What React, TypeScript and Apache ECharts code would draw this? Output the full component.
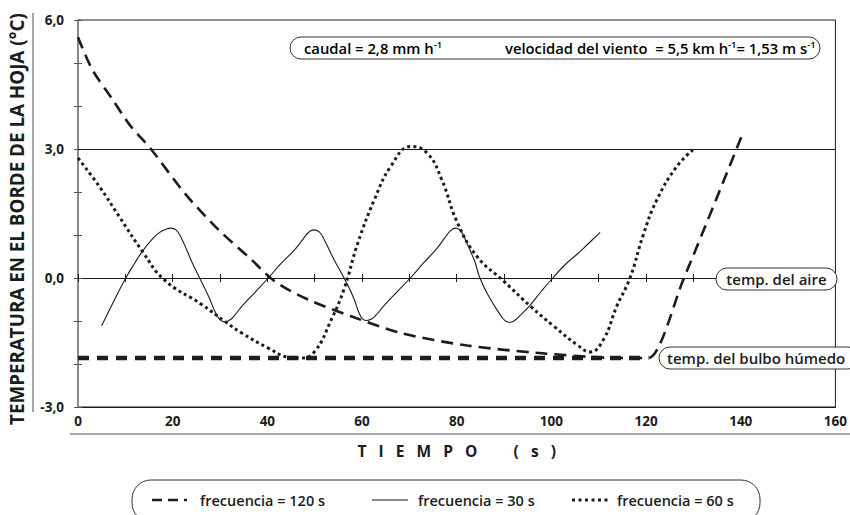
import React, { useEffect, useRef } from 'react';
import * as echarts from 'echarts';

// ---- data (time in s, leaf-edge temperature in °C) ----
const freq120: number[][] = [
  [0, 5.6], [3, 4.85], [7.3, 4.15], [11, 3.55], [15.4, 3.0], [22.7, 1.95], [29.7, 1.12],
  [36.7, 0.42], [41.6, -0.08], [48.6, -0.5], [57.7, -0.89], [68.2, -1.28], [82.2, -1.57],
  [96.9, -1.74], [108.9, -1.84], [114, -1.86], [119, -1.86], [120.5, -1.86], [128, 0], [140.2, 3.3],
];
const freq30: number[][] = [
  [5, -1.11], [7.5, -0.55], [10.1, 0], [12, 0.35], [13.6, 0.62], [15.5, 0.88], [17.1, 1.05],
  [18.5, 1.13], [19.6, 1.16], [20.7, 1.12], [22, 0.89], [23.1, 0.62], [24.1, 0.36], [25.7, 0],
  [27.6, -0.43], [29.2, -0.84], [30.2, -0.99], [31, -1.02], [31.9, -0.99], [33, -0.88],
  [34.6, -0.66], [37.5, -0.32], [40.2, 0], [43, 0.35], [45.8, 0.66], [47.5, 0.9], [48.8, 1.07],
  [49.8, 1.12], [50.9, 1.08], [52.2, 0.85], [53.3, 0.6], [54.4, 0.36], [56.2, 0], [58.1, -0.43],
  [59.4, -0.82], [60.2, -0.96], [61, -0.99], [61.9, -0.96], [63, -0.86], [64.5, -0.66],
  [67.4, -0.32], [70.2, 0], [73, 0.35], [75.6, 0.66], [77.4, 0.92], [78.7, 1.1], [79.8, 1.16],
  [80.8, 1.1], [82, 0.85], [83, 0.6], [83.9, 0.36], [84.9, 0], [86.8, -0.43], [89.3, -0.87],
  [90.3, -1.0], [91.2, -1.03], [92.1, -1.0], [93.3, -0.88], [95.3, -0.66], [97.8, -0.32],
  [100.3, 0], [103, 0.32], [105.3, 0.54], [108, 0.82], [110.3, 1.06],
];
const freq60: number[][] = [
  [0, 2.79], [4.5, 2.13], [8.7, 1.43], [13.6, 0.62], [18.2, -0.04], [26.2, -0.62], [30.9, -1.0],
  [34.6, -1.28], [40.2, -1.63], [44.4, -1.84], [47.2, -1.86], [50, -1.71], [53.5, -0.97],
  [56.2, -0.26], [59.1, 0.81], [62.6, 1.82], [66.1, 2.6], [70.3, 3.06], [73.8, 2.9],
  [76.8, 2.3], [80.1, 1.3], [84.3, 0.5], [90, -0.08], [95.6, -0.66], [100.5, -1.12],
  [105.4, -1.55], [108.2, -1.72], [111, -1.43], [113.8, -0.66], [116.6, 0], [119.4, 1.0],
  [122.2, 1.8], [126.4, 2.58], [129.9, 2.98],
];
const wetBulb: number[][] = [[0, -1.86], [120.5, -1.86]];
const refLine = 3;

const seriesNames = ['frecuencia = 120 s', 'frecuencia = 30 s', 'frecuencia = 60 s'];
const NB = '\u00A0';
const xTitle = ['T', 'I', 'E', 'M', 'P', 'O'].join(NB.repeat(3)) + NB.repeat(9) + ['(', 's', ')'].join(NB.repeat(3));
const yTitle = 'TEMPERATURA EN EL BORDE DE LA HOJA (°C)';
const airLabel = 'temp. del aire';
const wetLabel = 'temp. del bulbo húmedo';

const FONT = '"Open Sans", "Noto Sans", sans-serif';
const INK = '#1c1c1c';

export default function App() {
  const ref = useRef<HTMLDivElement>(null);
  useEffect(() => {
    if (!ref.current) return;
    const chart = echarts.init(ref.current, undefined, { renderer: 'svg' });
    const rich = {
      a: { fontSize: 14.8, fontWeight: 600, fontFamily: FONT, color: INK, lineHeight: 18 },
      s: { fontSize: 9.5, fontWeight: 600, fontFamily: FONT, color: INK, lineHeight: 10, verticalAlign: 'top' },
    };
    const lineDefs = [
      { name: seriesNames[0], x1: 152, x2: 187, width: 2.6, dash: [10, 6], tx: 200 },
      { name: seriesNames[1], x1: 372, x2: 408, width: 1.1, dash: null, tx: 418 },
      { name: seriesNames[2], x1: 572, x2: 611, width: 3, dash: [3, 3.5], tx: 617 },
    ];
    const legendGraphics: any[] = [];
    lineDefs.forEach((d) => {
      legendGraphics.push({
        type: 'line', z: 100, shape: { x1: d.x1, y1: 500, x2: d.x2, y2: 500 },
        style: { stroke: INK, lineWidth: d.width, lineDash: d.dash || undefined, lineCap: 'butt' },
      });
      legendGraphics.push({
        type: 'text', z: 100, x: d.tx, y: 500,
        style: { text: d.name, fontSize: 14.5, fontWeight: 600, fontFamily: FONT, fill: INK, align: 'left', verticalAlign: 'middle' },
      });
    });
    chart.setOption({
      animation: false,
      textStyle: { fontFamily: FONT },
      grid: { left: 78, right: 8, top: 20, bottom: 108, show: true, borderColor: INK, borderWidth: 1 },
      xAxis: [
        {
          type: 'value', min: 0, max: 160, interval: 20, position: 'bottom',
          axisLine: { onZero: false, lineStyle: { color: INK, width: 1 } },
          axisTick: { show: false },
          axisLabel: { fontSize: 13.5, fontWeight: 'bold', color: INK, margin: 7, fontFamily: FONT },
          splitLine: { show: false },
          name: xTitle, nameLocation: 'middle', nameGap: 36,
          nameTextStyle: { fontSize: 15.5, fontWeight: 'bold', color: INK, fontFamily: FONT },
        },
        {
          type: 'value', min: 0, max: 160, interval: 10, position: 'top',
          axisLine: { show: true, onZero: true, onZeroAxisIndex: 0, lineStyle: { color: INK, width: 1 } },
          axisTick: { show: true, length: 4, lineStyle: { color: INK, width: 1 } },
          axisLabel: { show: false }, splitLine: { show: false },
        },
        {
          type: 'value', min: 0, max: 160, interval: 10, position: 'bottom',
          axisLine: { show: false, onZero: true, onZeroAxisIndex: 0 },
          axisTick: { show: true, length: 4, lineStyle: { color: INK, width: 1 } },
          axisLabel: { show: false }, splitLine: { show: false },
        },
      ],
      yAxis: [
        {
          type: 'value', min: -3, max: 6, interval: 1, position: 'left',
          axisLine: { show: true, onZero: false, lineStyle: { color: '#8a8a8a', width: 2 } },
          axisTick: { show: true, length: 4, lineStyle: { color: '#555', width: 1 } },
          axisLabel: {
            fontSize: 13.5, fontWeight: 'bold', color: INK, margin: 14, fontFamily: FONT,
            formatter: (v: number) => (Math.abs(v % 3) < 1e-9 ? v.toFixed(1).replace('.', ',') : ''),
          },
          splitLine: { show: false },
        },
        {
          type: 'value', min: -3, max: 6, interval: 1, position: 'right',
          axisLine: { show: false, onZero: true, onZeroAxisIndex: 0 },
          axisTick: { show: true, length: 4, lineStyle: { color: '#555', width: 1 } },
          axisLabel: { show: false }, splitLine: { show: false },
        },
      ],
      series: [
        {
          name: 'temp. del bulbo húmedo', type: 'line', data: wetBulb, symbol: 'none',
          lineStyle: { color: INK, width: 4.5, type: [11, 8], cap: 'butt' }, z: 3,
        },
        {
          name: seriesNames[0], type: 'line', data: freq120, symbol: 'none', smooth: 0.3,
          lineStyle: { color: INK, width: 2.6, type: [12, 7], cap: 'butt' }, z: 4,
        },
        {
          name: seriesNames[1], type: 'line', data: freq30, symbol: 'none', smooth: 0.5,
          lineStyle: { color: INK, width: 1.1, type: 'solid' }, z: 4,
          markLine: {
            silent: true, symbol: 'none', label: { show: false },
            lineStyle: { color: INK, width: 1, type: 'solid' },
            data: [{ yAxis: refLine }],
          },
        },
        {
          name: seriesNames[2], type: 'line', data: freq60, symbol: 'none', smooth: 0.45,
          lineStyle: { color: INK, width: 3, type: [3, 3.2], cap: 'butt' }, z: 4,
        },
      ],
      graphic: [
        {
          type: 'text', z: 100, x: 17, y: 219, rotation: Math.PI / 2,
          style: { text: yTitle, fontSize: 18.8, fontWeight: 'bold', fontFamily: FONT, fill: INK, align: 'center', verticalAlign: 'middle' },
        },
        { type: 'line', z: 100, shape: { x1: 33, y1: 13, x2: 33, y2: 412 }, style: { stroke: '#8a8a8a', lineWidth: 1.5 } },
        { type: 'line', z: 100, shape: { x1: 70, y1: 434, x2: 850, y2: 434 }, style: { stroke: '#8a8a8a', lineWidth: 1.5 } },
        { type: 'rect', z: 100, shape: { x: 290, y: 37, width: 530, height: 22, r: 11 }, style: { fill: '#fff', stroke: '#333', lineWidth: 1 } },
        { type: 'text', z: 101, x: 304, y: 48, style: { text: '{a|caudal = 2,8 mm h}{s|-1}', rich, verticalAlign: 'middle', align: 'left' } },
        { type: 'text', z: 101, x: 505, y: 48, style: { text: '{a|velocidad del viento  = 5,5 km h}{s|-1}{a|= 1,53 m s}{s|-1}', rich, verticalAlign: 'middle', align: 'left' } },
        { type: 'rect', z: 100, shape: { x: 716, y: 268, width: 121, height: 22, r: 11 }, style: { fill: '#fff', stroke: '#333', lineWidth: 1 } },
        { type: 'text', z: 101, x: 776.5, y: 279, style: { text: airLabel, fontSize: 15, fontWeight: 600, fontFamily: FONT, fill: INK, align: 'center', verticalAlign: 'middle' } },
        { type: 'rect', z: 100, shape: { x: 659, y: 347, width: 200, height: 22, r: 11 }, style: { fill: '#fff', stroke: '#333', lineWidth: 1 } },
        { type: 'text', z: 101, x: 667, y: 358, style: { text: wetLabel, fontSize: 15, fontWeight: 600, fontFamily: FONT, fill: INK, align: 'left', verticalAlign: 'middle' } },
        { type: 'rect', z: 1, shape: { x: 132, y: 480, width: 628, height: 42, r: 19 }, style: { fill: 'none', stroke: '#333', lineWidth: 1 } },
        ...legendGraphics,
      ],
    });
    return () => chart.dispose();
  }, []);
  return <div ref={ref} style={{ width: 850, height: 515, position: 'absolute', left: 0, top: 0 }} />;
}
